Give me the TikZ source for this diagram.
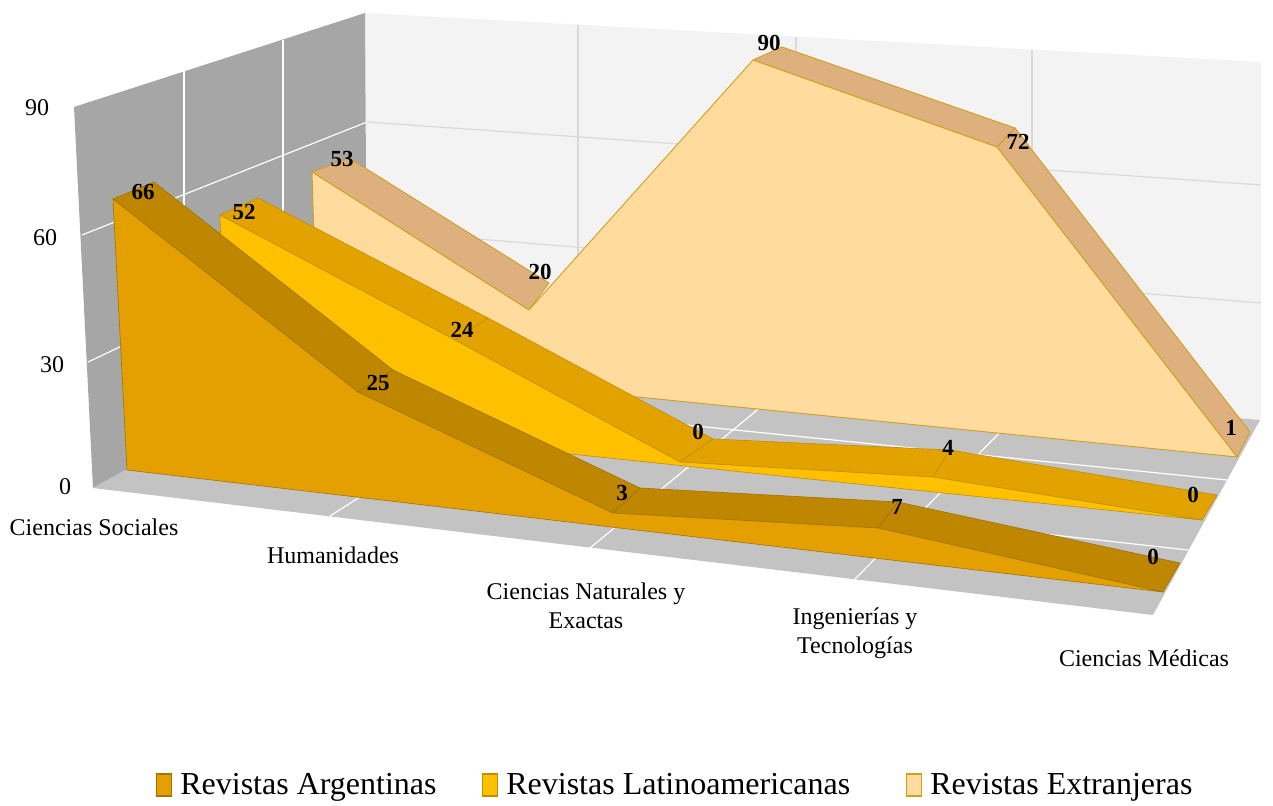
\documentclass[tikz,border=0pt]{standalone}
\usepackage{fontspec}
\setmainfont{Liberation Serif}
\usetikzlibrary{positioning}

\definecolor{argface}{HTML}{E3A000}
\definecolor{argtop}{HTML}{BF8700}
\definecolor{argline}{HTML}{A07400}
\definecolor{latface}{HTML}{FFC000}
\definecolor{lattop}{HTML}{E2A300}
\definecolor{latline}{HTML}{C08E00}
\definecolor{extface}{HTML}{FFDB9E}
\definecolor{exttop}{HTML}{DDB07E}
\definecolor{extline}{HTML}{CFA020}
\definecolor{sidewall}{HTML}{A6A6A6}
\definecolor{rearwall}{HTML}{F3F3F3}
\definecolor{floorgray}{HTML}{C3C3C3}
\definecolor{reargrid}{HTML}{D9D9D9}

\begin{document}
\begin{tikzpicture}[x=1pt,y=-1pt]
        % Define the styles for walls, series and labels
        \tikzstyle{wallgrid}=[white, line width=1.2pt]
        \tikzstyle{rgrid}=[reargrid, line width=1.2pt]
        \tikzstyle{argbody}=[fill=argface, draw=argline, line width=0.6pt, line join=round]
        \tikzstyle{argstrip}=[fill=argtop, draw=argline, line width=0.6pt, line join=round]
        \tikzstyle{latbody}=[fill=latface, draw=latline, line width=0.6pt, line join=round]
        \tikzstyle{latstrip}=[fill=lattop, draw=latline, line width=0.6pt, line join=round]
        \tikzstyle{extbody}=[fill=extface, draw=extline, line width=0.9pt, line join=round]
        \tikzstyle{extstrip}=[fill=exttop, draw=extline, line width=0.9pt, line join=round]
        \tikzstyle{vallabel}=[inner sep=0pt, font=\fontsize{23}{26}\selectfont\bfseries]
        \tikzstyle{axlabel}=[inner sep=0pt, font=\fontsize{24}{29}\selectfont, align=center]
        \tikzstyle{keybox}=[draw, line width=1.2pt, minimum width=15pt, minimum height=22pt, inner sep=0pt]
        \tikzstyle{keytext}=[inner sep=0pt, anchor=west, text height=22pt, text depth=3pt, font=\fontsize{32}{35}\selectfont]

        \useasboundingbox (0,0) rectangle (1273,805);

        % Define the back wall
        \fill[rearwall] (365,13) -- (1261,62) -- (1261,420) -- (367,338) -- cycle;
        \draw[rgrid] (367,122) -- (1261,185);
        \draw[rgrid] (367,230) -- (1261,303);
        \draw[rgrid] (578,25) -- (578,357);
        \draw[rgrid] (796,37) -- (796,377);
        \draw[rgrid] (1032,50) -- (1032,399);

        % Define the left wall
        \fill[sidewall] (74,107) -- (365,13) -- (367,338) -- (93,488) -- cycle;
        \draw[wallgrid] (82,235) -- (367,122);
        \draw[wallgrid] (88,362) -- (367,230);
        \draw[wallgrid] (184,71) -- (184,438);
        \draw[wallgrid] (283,40) -- (283,384);

        % Define the floor
        \fill[floorgray] (93,488) -- (367,338) -- (1260,420) -- (1153,615) -- cycle;
        \draw[wallgrid] (330,516) -- (578,358);
        \draw[wallgrid] (590,548) -- (796,378);
        \draw[wallgrid] (855,579) -- (1032,400);
        \draw[wallgrid] (184,438) -- (1188,550);
        \draw[wallgrid] (283,384) -- (1227,480);

        % Define the Revistas Extranjeras series
        \draw[extstrip] (312,172) -- (529,310) -- (549,283) -- (349,158) -- cycle;
        \draw[extstrip] (753,60) -- (997,147) -- (1015,128) -- (782,47) -- cycle;
        \draw[extstrip] (997,147) -- (1237,457) -- (1250,432) -- (1015,128) -- cycle;
        \draw[extbody] (318,365) -- (312,172) -- (529,310) -- (753,60) -- (997,147) -- (1237,457) -- cycle;

        % Define the Revistas Latinoamericanas series
        \draw[latstrip] (220,215) -- (455,340) -- (488,318) -- (258,198) -- cycle;
        \draw[latstrip] (455,340) -- (680,462) -- (713,439) -- (488,318) -- cycle;
        \draw[latstrip] (680,462) -- (933,477) -- (950,450) -- (713,439) -- cycle;
        \draw[latstrip] (933,477) -- (1202,520) -- (1217,495) -- (950,450) -- cycle;
        \draw[latbody] (226,418) -- (220,215) -- (455,340) -- (680,462) -- (933,477) -- (1202,520) -- cycle;

        % Define the Revistas Argentinas series
        \draw[argstrip] (113,199) -- (358,392) -- (393,370) -- (154,182) -- cycle;
        \draw[argstrip] (358,392) -- (613,513) -- (640,488) -- (393,370) -- cycle;
        \draw[argstrip] (613,513) -- (878,528) -- (898,502) -- (640,488) -- cycle;
        \draw[argstrip] (878,528) -- (1163,592) -- (1180,563) -- (898,502) -- cycle;
        \draw[argbody] (127,470) -- (113,199) -- (358,392) -- (613,513) -- (878,528) -- (1163,592) -- cycle;

        % Define the value labels
        \node[vallabel] (ext53) at (342,159) {53};
        \node[vallabel] (ext20) at (540,272) {20};
        \node[vallabel] (ext90) at (769,43) {90};
        \node[vallabel] (ext72) at (1018,142) {72};
        \node[vallabel] (ext1) at (1231,428) {1};
        \node[vallabel] (lat52) at (244,212) {52};
        \node[vallabel] (lat24) at (462,330) {24};
        \node[vallabel] (lat0a) at (698,432) {0};
        \node[vallabel] (lat4) at (948,448) {4};
        \node[vallabel] (lat0b) at (1193,495) {0};
        \node[vallabel] (arg66) at (143,192) {66};
        \node[vallabel] (arg25) at (378,383) {25};
        \node[vallabel] (arg3) at (622,493) {3};
        \node[vallabel] (arg7) at (897,507) {7};
        \node[vallabel] (arg0) at (1153,557) {0};

        % Define the axis labels
        \node[axlabel] (tick90) at (37,108) {90};
        \node[axlabel] (tick60) at (45,238) {60};
        \node[axlabel] (tick30) at (52,365) {30};
        \node[axlabel] (tick0) at (65,487) {0};
        \node[axlabel] (catsoc) at (94,527) {Ciencias Sociales};
        \node[axlabel] (cathum) at (333,555) {Humanidades};
        \node[axlabel] (catnat) at (586,606) {Ciencias Naturales y\\Exactas};
        \node[axlabel] (cating) at (855,633) {Ingenierías y\\Tecnologías};
        \node[axlabel] (catmed) at (1144,658) {Ciencias Médicas};

        % Define the legend
        \node[keybox, fill=argface, draw=argline] (keyarg) at (164,785) {};
        \node[keytext, right=8pt of keyarg] (txtarg) {Revistas Argentinas};
        \node[keybox, fill=latface, draw=latline] (keylat) at (490,785) {};
        \node[keytext, right=8pt of keylat] (txtlat) {Revistas Latinoamericanas};
        \node[keybox, fill=extface, draw=extline] (keyext) at (914,785) {};
        \node[keytext, right=8pt of keyext] (txtext) {Revistas Extranjeras};
    \end{tikzpicture}
\end{document}
